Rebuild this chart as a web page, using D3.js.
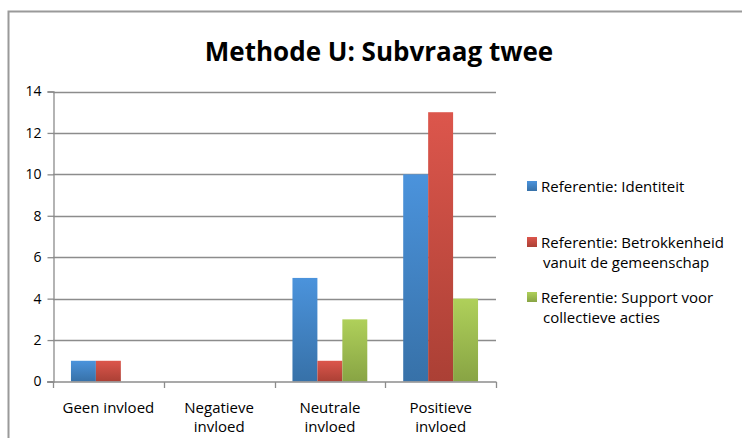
<!DOCTYPE html>
<html>
<head>
<meta charset="utf-8">
<script src="https://cdn.jsdelivr.net/npm/d3@7"></script>
<style>
  body { margin: 0; background: #fff; }
  text { font-family: "Open Sans", Lato, sans-serif; fill: #000; }
</style>
</head>
<body>
<div id="figure"></div>
<script>
// data
var categories = [["Geen invloed"], ["Negatieve", "invloed"], ["Neutrale", "invloed"], ["Positieve", "invloed"]];
var seriesNames = [
    ["Referentie: Identiteit"],
    ["Referentie: Betrokkenheid", "vanuit de gemeenschap"],
    ["Referentie: Support voor", "collectieve acties"]
];
var identiteit = [1, 0, 5, 10];
var betrokkenheid = [1, 0, 1, 13];
var support = [0, 0, 3, 4];
var yTicks = [0, 2, 4, 6, 8, 10, 12, 14];

var seriesValues = [identiteit, betrokkenheid, support];
var colors = [["#4b93dc", "#3771a8"], ["#dc564c", "#ab4035"], ["#afd05a", "#88a444"]];

var width = 742, height = 438;
var svg = d3.select("#figure").append("svg")
    .attr("width", width)
    .attr("height", height);

// outer chart border
svg.append("rect")
    .attr("x", 8.5).attr("y", 11.5)
    .attr("width", 760).attr("height", 460)
    .attr("fill", "none")
    .attr("stroke", "#9a9a9a")
    .attr("stroke-width", 2);

var defs = svg.append("defs");
colors.forEach(function (c, i) {
    var g = defs.append("linearGradient")
        .attr("id", "grad" + i)
        .attr("x1", 0).attr("y1", 0).attr("x2", 0).attr("y2", 1);
    g.append("stop").attr("offset", "0%").attr("stop-color", c[0]);
    g.append("stop").attr("offset", "100%").attr("stop-color", c[1]);
});

svg.append("text")
    .attr("x", 379).attr("y", 61)
    .attr("text-anchor", "middle")
    .attr("font-family", "Lato, sans-serif")
    .attr("font-size", "26px")
    .attr("font-weight", "bold")
    .text("Methode U: Subvraag twee");

var x = d3.scaleBand()
    .domain(d3.range(categories.length))
    .range([53, 496]);
var xInner = d3.scaleBand()
    .domain(d3.range(seriesValues.length))
    .range([0, x.bandwidth()])
    .paddingOuter(0.72);
var y = d3.scaleLinear().domain([0, 14]).range([381.5, 91.5]);

// gridlines
svg.selectAll(".grid")
    .data(yTicks.slice(1))
    .enter().append("line")
    .attr("x1", 53).attr("x2", 496)
    .attr("y1", function (d) { return Math.round(y(d)) + 0.5; })
    .attr("y2", function (d) { return Math.round(y(d)) + 0.5; })
    .attr("stroke", "#8c8c8c")
    .attr("stroke-width", 1.3);

// bars
seriesValues.forEach(function (vals, s) {
    svg.selectAll(".bar" + s)
        .data(vals)
        .enter().append("rect")
        .attr("x", function (d, i) { return x(i) + xInner(s); })
        .attr("y", function (d) { return y(d); })
        .attr("width", xInner.bandwidth())
        .attr("height", function (d) { return y(0) - y(d); })
        .attr("fill", "url(#grad" + s + ")");
});

// y axis
var yAxis = svg.append("g")
    .attr("transform", "translate(53.5,0)")
    .call(d3.axisLeft(y).tickValues(yTicks).tickSize(6).tickPadding(6));
yAxis.selectAll("text").attr("font-size", "14px").attr("font-family", "Open Sans, sans-serif");
yAxis.selectAll("line, path").attr("stroke", "#8c8c8c").attr("stroke-width", 1.3);

// x axis
var xAxis = svg.append("g")
    .attr("transform", "translate(0," + (y(0) + 0.5) + ")");
xAxis.append("line")
    .attr("x1", 47).attr("x2", 496.5)
    .attr("stroke", "#8c8c8c").attr("stroke-width", 1.3);
xAxis.selectAll(".tick")
    .data(d3.range(categories.length + 1))
    .enter().append("line")
    .attr("x1", function (d) { return Math.round(d < categories.length ? x(d) : x.range()[1]) + 0.5; })
    .attr("x2", function (d) { return Math.round(d < categories.length ? x(d) : x.range()[1]) + 0.5; })
    .attr("y1", 0).attr("y2", 6)
    .attr("stroke", "#8c8c8c").attr("stroke-width", 1.3);
xAxis.selectAll(".lbl")
    .data(categories)
    .enter().append("text")
    .attr("text-anchor", "middle")
    .attr("font-size", "15px")
    .attr("x", function (d, i) { return x(i) + x.bandwidth() / 2; })
    .attr("y", 31)
    .selectAll("tspan")
    .data(function (d) { return d; })
    .enter().append("tspan")
    .attr("x", function () { var p = this.parentNode; return p.getAttribute("x"); })
    .attr("dy", function (d, i) { return i === 0 ? 0 : 19; })
    .text(function (d) { return d; });

// legend
var legendY = [190, 246, 301];
seriesNames.forEach(function (lines, s) {
    svg.append("rect")
        .attr("x", 527).attr("y", legendY[s] - 9)
        .attr("width", 10).attr("height", 10)
        .attr("fill", "url(#grad" + s + ")");
    var t = svg.append("text")
        .attr("x", 541).attr("y", legendY[s] + 2)
        .attr("font-size", "15px");
    lines.forEach(function (l, i) {
        t.append("tspan")
            .attr("x", i === 0 ? 541 : 543)
            .attr("dy", i === 0 ? 0 : 20)
            .text(l);
    });
});
</script>
</body>
</html>
